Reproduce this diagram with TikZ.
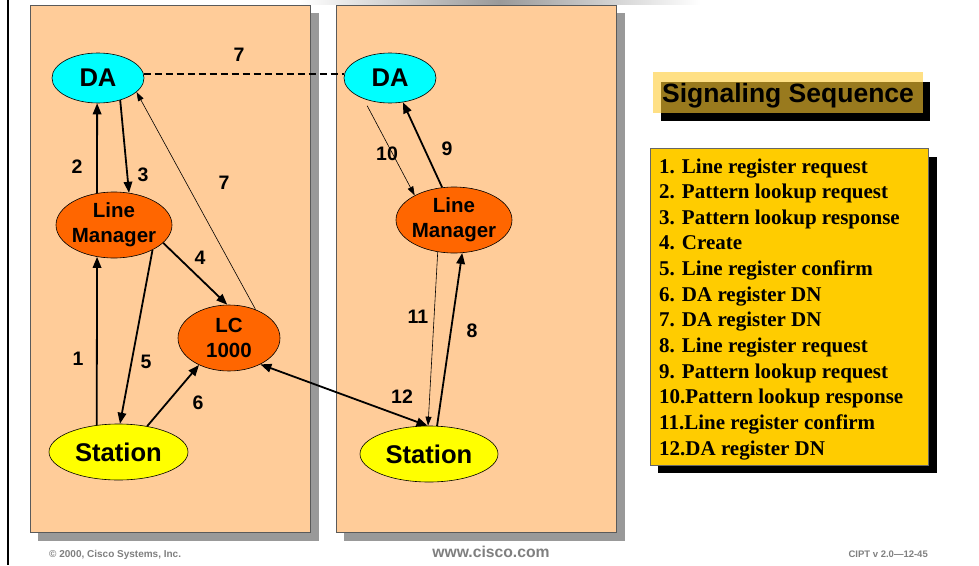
\documentclass[tikz,border=0pt]{standalone}
\usepackage{fontspec}
\setmainfont{Liberation Sans}
\newfontfamily\listfont{Liberation Serif}
\usetikzlibrary{shapes.geometric,arrows.meta}

\definecolor{panelfill}{HTML}{FFCC99}
\definecolor{paneledge}{HTML}{5A5A5A}
\definecolor{panelshadow}{HTML}{999999}
\definecolor{dacolor}{HTML}{00FFFF}
\definecolor{lmcolor}{HTML}{FF6600}
\definecolor{stcolor}{HTML}{FFFF00}
\definecolor{listfill}{HTML}{FFCC00}
\definecolor{titlegold}{HTML}{FFCC33}
\definecolor{footgray}{HTML}{7F7F7F}

\tikzset{
  entity/.style={ellipse, draw=black, line width=0.6pt, inner sep=0pt, align=center,
    font=\bfseries\fontsize{20.5}{25}\selectfont},
  bigentity/.style={entity, font=\bfseries\fontsize{25.6}{30}\selectfont},
  seqnum/.style={font=\bfseries\fontsize{19.5}{22}\selectfont, inner sep=0pt},
  msg/.style={-{Triangle[length=11pt,width=8.5pt]}, line width=1.8pt},
  thinmsg/.style={-{Triangle[length=9pt,width=6pt]}, line width=0.6pt},
  listitem/.style={font=\listfont\bfseries\fontsize{21}{25}\selectfont, inner sep=0pt},
  footnote/.style={font=\bfseries\fontsize{10}{12}\selectfont, text=footgray, inner sep=0pt}
}

\begin{document}
\begin{tikzpicture}[x=1pt, y=-1pt]

        \useasboundingbox (0,0) rectangle (979,565);

        % Page rule and top band
        \draw[line width=2pt] (8,0) -- (8,565);
        \shade[left color=white, right color=white, middle color=black!40] (300,0) rectangle (700,4);

        % Panels
        \fill[panelshadow] (38,13) rectangle (319,541);
        \filldraw[fill=panelfill, draw=paneledge, line width=1pt] (30,5) rectangle (310,532);
        \fill[panelshadow] (344,13) rectangle (625,541);
        \filldraw[fill=panelfill, draw=paneledge, line width=1pt] (336,5) rectangle (616,532);

        % Left cluster
        \node[bigentity, fill=dacolor, minimum width=92pt, minimum height=50pt] (daL) at (98,78) {DA};
        \node[entity, fill=lmcolor, inner xsep=-2pt, minimum width=116pt, minimum height=66pt] (lmL) at (114,225) {Line\\Manager};
        \node[entity, fill=lmcolor, minimum width=102pt, minimum height=66pt] (lc) at (229,338) {LC\\1000};
        \node[bigentity, fill=stcolor, minimum width=139pt, minimum height=56pt] (stL) at (118.5,452) {Station};

        % Right cluster
        \node[bigentity, fill=dacolor, minimum width=92pt, minimum height=50pt] (daR) at (390,78) {DA};
        \node[entity, fill=lmcolor, inner xsep=-2pt, minimum width=116pt, minimum height=66pt] (lmR) at (454,220) {Line\\Manager};
        \node[bigentity, fill=stcolor, minimum width=138pt, minimum height=56pt] (stR) at (429,454) {Station};

        % Left messages
        \draw[msg] (stL.129) -- (lmL.242);
        \draw[msg] (lmL.118) -- (daL.-92);
        \draw[msg] (daL.-45) -- (lmL.65);
        \draw[msg] (lmL.-20) -- (lc.93);
        \draw[msg] (lmL.-33) -- (stL.87);
        \draw[msg] (stL.42) -- (lc.-138);
        \draw[thinmsg] (lc.47) -- (daL.-20);
        \draw[dashed, line width=1.5pt, dash pattern=on 7pt off 4pt] (daL.5) -- (daR.175);

        % Right messages
        \draw[msg] (stR.74) -- (lmR.-76);
        \draw[msg] (lmR.110) -- (daR.-62);
        \draw[thinmsg, shorten <=8pt] (daR.-142) -- (lmR.148);
        \draw[thinmsg] (lmR.-117) -- (stR.92);
        \draw[{Triangle[length=11pt,width=8.5pt]}-{Triangle[length=11pt,width=8.5pt]}, line width=1.8pt] (lc.-40) -- (stR.93);

        % Step numbers
        \node[seqnum] (n7top) at (239,55) {7};
        \node[seqnum] (n2) at (77,167) {2};
        \node[seqnum] (n3) at (143,175) {3};
        \node[seqnum] (n7mid) at (224,183) {7};
        \node[seqnum] (n4) at (200,258) {4};
        \node[seqnum] (n1) at (78,359) {1};
        \node[seqnum] (n5) at (146,362) {5};
        \node[seqnum] (n6) at (198,403) {6};
        \node[seqnum] (n10) at (387,154) {10};
        \node[seqnum] (n9) at (447,149) {9};
        \node[seqnum] (n11) at (418,317) {11};
        \node[seqnum] (n8) at (472,331) {8};
        \node[seqnum] (n12) at (402,397) {12};

        % Title
        \fill[black] (661,82) rectangle (930,121);
        \fill[titlegold, opacity=0.6] (653,72) rectangle (923,113);
        \node[font=\bfseries\fontsize{26.5}{30}\selectfont, inner sep=0pt, anchor=base] (title) at (788,102) {Signaling Sequence};

        % Sequence list
        \fill[black] (658,157) rectangle (937,473);
        \filldraw[fill=listfill, draw=black!60, line width=0.8pt] (650,148) rectangle (928,465);
        \foreach \txt [count=\i] in {1. Line register request, 2. Pattern lookup request,
            3. Pattern lookup response, 4. Create, 5. Line register confirm, 6. DA register DN,
            7. DA register DN, 8. Line register request, 9. Pattern lookup request,
            10.Pattern lookup response, 11.Line register confirm, 12.DA register DN}
          \node[listitem, anchor=base west] (item\i) at (659,{173+25.64*(\i-1)}) {\txt};

        % Footer
        \node[footnote, anchor=base west] (copy) at (49,557) {© 2000, Cisco Systems, Inc.};
        \node[footnote, font=\bfseries\fontsize{15.7}{18}\selectfont, anchor=base] (web) at (491,557) {www.cisco.com};
        \node[footnote, font=\bfseries\fontsize{9.5}{12}\selectfont, anchor=base east] (course) at (928,557) {CIPT v 2.0—12-45};

\end{tikzpicture}
\end{document}
